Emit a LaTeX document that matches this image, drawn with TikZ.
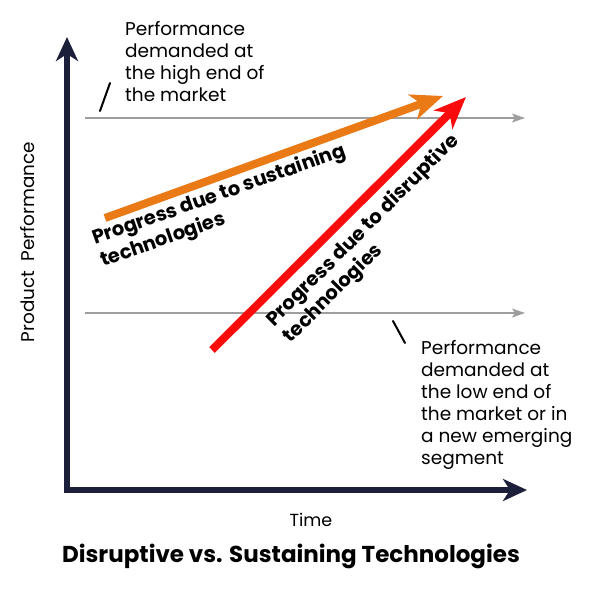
\documentclass[tikz,border=0pt]{standalone}
\usepackage{fontspec}
\setmainfont{Poppins}
\usetikzlibrary{arrows.meta}
\definecolor{axnavy}{RGB}{28,31,58}
\definecolor{lvgray}{RGB}{158,158,158}
\definecolor{susorange}{RGB}{234,122,22}
\definecolor{disred}{RGB}{250,12,12}

\begin{document}
\begin{tikzpicture}[x=1pt, y=-1pt,
  axis/.style={line width=6pt, axnavy, line join=miter},
  level/.style={line width=1.3pt, lvgray, -{Stealth[length=13pt, width=9pt, inset=3pt]}},
  prog/.style={line width=8pt, -{Stealth[length=32pt, width=26pt, inset=9pt]}},
  note/.style={font=\fontsize{18.5}{22}\selectfont, align=left,
    anchor=north west, inner sep=0pt},
  plabel/.style={font=\bfseries\fontsize{19.5}{23.5}\selectfont, align=left,
    anchor=north west, inner sep=0pt},
  marker/.style={line width=2pt, line cap=round}]
\useasboundingbox (0,0) rectangle (602,591);
% Axes
\coordinate (o) at (67,490);
\coordinate (ytop) at (67,37);
\coordinate (xend) at (527,490);
\draw[axis, {Stealth[length=24pt, width=22pt, inset=7pt]}-{Stealth[length=24pt, width=22pt, inset=7pt]}]
  (ytop) -- (o) -- (xend);
% Demand levels
\coordinate (hi0) at (85,118);
\coordinate (hi1) at (525,118);
\coordinate (lo0) at (85,313);
\coordinate (lo1) at (525,313);
\draw[level] (hi0) -- (hi1);
\draw[level] (lo0) -- (lo1);
% Progress arrows
\coordinate (sus0) at (105,218);
\coordinate (sus1) at (443,96);
\coordinate (dis0) at (212,350);
\coordinate (dis1) at (466,97);
\draw[prog, susorange] (sus0) -- (sus1);
\draw[prog, disred] (dis0) -- (dis1);
% Labels
\node[plabel, rotate=19.5] (suslabel) at (90,230)
  {Progress due to sustaining\\technologies};
\node[plabel, rotate=45] (dislabel) at (263,316)
  {Progress due to disruptive\\technologies};
\node[note] (hinote) at (125,21)
  {Performance\\demanded at\\the high end of\\the market};
\node[note] (lonote) at (421,340)
  {Performance\\demanded at\\the low end of\\the market or in\\a new emerging\\segment};
% Pointer marks
\coordinate (hm0) at (100,111);
\coordinate (hm1) at (110,83);
\coordinate (lm0) at (393,321);
\coordinate (lm1) at (405,343);
\draw[marker] (hm0) -- (hm1);
\draw[marker] (lm0) -- (lm1);
% Axis titles
\node[font=\fontsize{18.4}{20}\selectfont, rotate=90] (ylabel) at (28,242) {Product\ \ Performance};
\node[font=\fontsize{17.5}{20}\selectfont] (xlabel) at (311,520) {Time};
\node[font=\bfseries\fontsize{23}{26}\selectfont] (title) at (291,556)
  {Disruptive vs. Sustaining Technologies};
\end{tikzpicture}
\end{document}
